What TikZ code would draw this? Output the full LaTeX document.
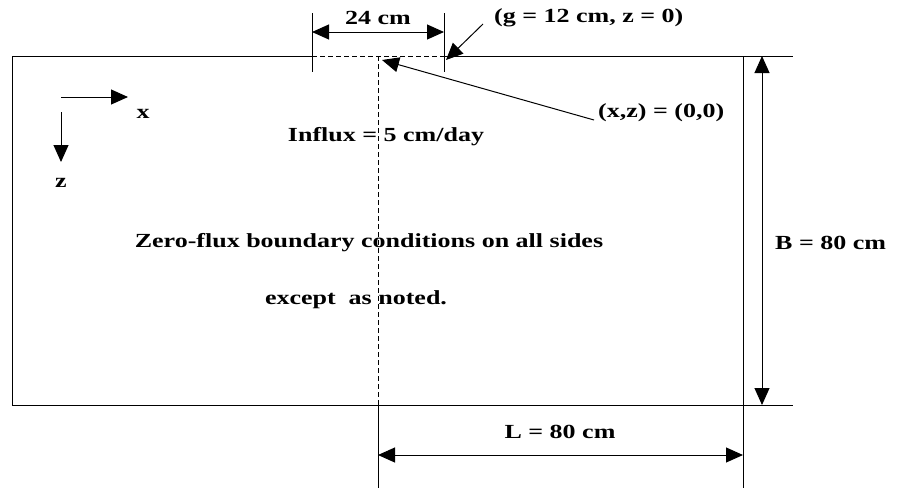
\documentclass[tikz,border=0pt]{standalone}
\usepackage{fontspec}
\setmainfont{Liberation Serif}[FakeStretch=1.3]
\usetikzlibrary{arrows.meta}
\begin{document}
\begin{tikzpicture}[x=1pt,y=-1pt,
  ln/.style={line width=1pt,black},
  dsh/.style={line width=1pt,dash pattern=on 5pt off 3pt},
  tip/.style={Triangle[length=17pt,width=15pt]},
  arr/.style={ln,-{Triangle[length=17pt,width=15pt]}},
  darr/.style={ln,{Triangle[length=17pt,width=15pt]}-{Triangle[length=17pt,width=15pt]}},
  lbl/.style={font=\bfseries\fontsize{20}{22}\selectfont,inner sep=0pt}]
\useasboundingbox[fill=white] (0,0) rectangle (897,491);
% frame corners
\coordinate (tl) at (12,56);
\coordinate (bl) at (12,405);
\coordinate (dl) at (312,56);
\coordinate (dr) at (444,56);
\coordinate (tr) at (793,56);
\coordinate (br) at (793,405);
\coordinate (rt) at (743,56);
\coordinate (rb) at (743,488);
\coordinate (ot) at (378,56);
\coordinate (ob) at (378,405);
\coordinate (oe) at (378,488);
% box
\draw[ln] (dl) -- (tl) -- (bl) -- (br);
\draw[ln] (dr) -- (tr);
\draw[ln] (rt) -- (rb);
\draw[dsh] (dl) -- (dr);
\draw[dsh] (ot) -- (ob);
\draw[ln] (ob) -- (oe);
% 24 cm dimension
\coordinate (e1t) at (312,13);
\coordinate (e1b) at (312,72);
\coordinate (e2t) at (444,13);
\coordinate (e2b) at (444,72);
\draw[ln] (e1t) -- (e1b);
\draw[ln] (e2t) -- (e2b);
\coordinate (a24l) at (312,32);
\coordinate (a24r) at (444,32);
\draw[darr] (a24l) -- (a24r);
\node[lbl] (l24) at (378,18) {24 cm};
% g label
\node[lbl,anchor=west] (lg) at (494,18) {(g = 12 cm, z = 0)};
\coordinate (gtail) at (483,24);
\coordinate (gtip) at (446,60);
\draw[arr] (gtail) -- (gtip);
% origin label
\node[lbl,anchor=west] (lo) at (598,113) {(x,z) = (0,0)};
\coordinate (otail) at (594,120);
\coordinate (otip) at (382,60);
\draw[arr] (otail) -- (otip);
% axes
\coordinate (ax0) at (61,97);
\coordinate (ax1) at (128,97);
\coordinate (az0) at (61,112);
\coordinate (az1) at (61,162);
\draw[arr] (ax0) -- (ax1);
\draw[arr] (az0) -- (az1);
\node[lbl] (lx) at (143,114) {x};
\node[lbl] (lz) at (61,183) {z};
% texts
\node[lbl] (influx) at (386,137) {Influx = 5 cm/day};
\node[lbl] (zero) at (369,243) {Zero-flux boundary conditions on all sides};
\node[lbl] (except) at (356,300) {except\ \ as noted.};
% B dimension
\coordinate (bt) at (762,56);
\coordinate (bb) at (762,405);
\draw[darr] (bt) -- (bb);
\node[lbl,anchor=west] (lb) at (775,243) {B = 80 cm};
% L dimension
\coordinate (ll) at (378,455);
\coordinate (lr) at (743,455);
\draw[darr] (ll) -- (lr);
\node[lbl] (lL) at (560,432) {L = 80 cm};
\end{tikzpicture}
\end{document}
